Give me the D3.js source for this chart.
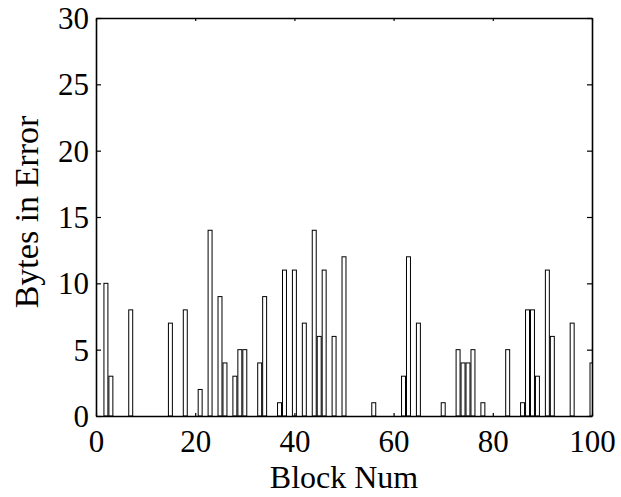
<!DOCTYPE html>
<html>
<head>
<meta charset="utf-8">
<script src="https://cdn.jsdelivr.net/npm/d3@7"></script>
<style>
  body { margin: 0; background: #fff; }
  text { font-family: "Liberation Serif", "Times New Roman", serif; fill: #000; }
</style>
</head>
<body>
<div id="chart"></div>
<script>
// blocks with errors (all other blocks are 0)
const blockNums = [2, 3, 7, 15, 18, 21, 23, 25, 26, 28, 29, 30, 33, 34, 37, 38, 40, 42, 44, 45, 46, 48, 50,
  56, 62, 63, 65, 70, 73, 74, 75, 76, 78, 83, 86, 87, 88, 89, 91, 92, 96, 100];
const byteErrors = [10, 3, 8, 7, 8, 2, 14, 9, 4, 3, 5, 5, 4, 9, 1, 11, 11, 7, 14, 6, 11, 6, 12,
  1, 3, 12, 7, 1, 5, 4, 4, 5, 1, 5, 1, 8, 8, 3, 11, 6, 7, 4];
const xTicks = [0, 20, 40, 60, 80, 100];
const yTicks = [0, 5, 10, 15, 20, 25, 30];

const data = blockNums.map((b, i) => ({ block: b, value: byteErrors[i] }));

const width = 621, height = 497;
const margin = { top: 18, right: 29, bottom: 81, left: 96 };

const svg = d3.select("#chart").append("svg")
  .attr("width", width)
  .attr("height", height);

const x = d3.scaleLinear().domain([0, 100]).range([margin.left, width - margin.right]);
const y = d3.scaleLinear().domain([0, 30]).range([height - margin.bottom, margin.top]);

svg.append("clipPath").attr("id", "clip")
  .append("rect")
  .attr("x", x(0)).attr("y", y(30))
  .attr("width", x(100) - x(0)).attr("height", y(0) - y(30));

// bars, width 0.8 like matlab
const barW = 0.8;
svg.append("g").attr("clip-path", "url(#clip)")
  .selectAll("rect")
  .data(data)
  .join("rect")
  .attr("x", d => x(d.block - barW / 2))
  .attr("y", d => y(d.value))
  .attr("width", x(barW) - x(0))
  .attr("height", d => y(0) - y(d.value))
  .attr("fill", "#fff")
  .attr("stroke", "#000")
  .attr("stroke-width", 1);

// axes - inward ticks, box on all sides
const axBottom = svg.append("g")
  .attr("transform", `translate(0,${y(0)})`)
  .call(d3.axisBottom(x).tickValues(xTicks).tickSizeInner(-3).tickSizeOuter(0).tickPadding(14));
const axTop = svg.append("g")
  .attr("transform", `translate(0,${y(30)})`)
  .call(d3.axisTop(x).tickValues(xTicks).tickSizeInner(-3).tickSizeOuter(0).tickFormat(""));
const axLeft = svg.append("g")
  .attr("transform", `translate(${x(0)},0)`)
  .call(d3.axisLeft(y).tickValues(yTicks).tickSizeInner(-5).tickSizeOuter(0).tickPadding(7));
const axRight = svg.append("g")
  .attr("transform", `translate(${x(100)},0)`)
  .call(d3.axisRight(y).tickValues(yTicks).tickSizeInner(-5).tickSizeOuter(0).tickFormat(""));

[axBottom, axTop, axLeft, axRight].forEach(g => {
  g.select(".domain").attr("stroke", "#000").attr("stroke-width", 1.6);
  g.selectAll(".tick line").attr("stroke", "#000").attr("stroke-width", 1.2);
  g.selectAll(".tick text")
    .attr("font-family", '"Liberation Serif", "Times New Roman", serif')
    .attr("font-size", 31)
    .attr("fill", "#000");
});

axLeft.selectAll(".tick text").attr("dy", "0.34em");

// axis labels
svg.append("text")
  .attr("x", (x(0) + x(100)) / 2)
  .attr("y", 488)
  .attr("text-anchor", "middle")
  .attr("font-size", 32)
  .text("Block Num");

svg.append("text")
  .attr("transform", `translate(38,${212}) rotate(-90)`)
  .attr("text-anchor", "middle")
  .attr("font-size", 34)
  .text("Bytes in Error");
</script>
</body>
</html>
